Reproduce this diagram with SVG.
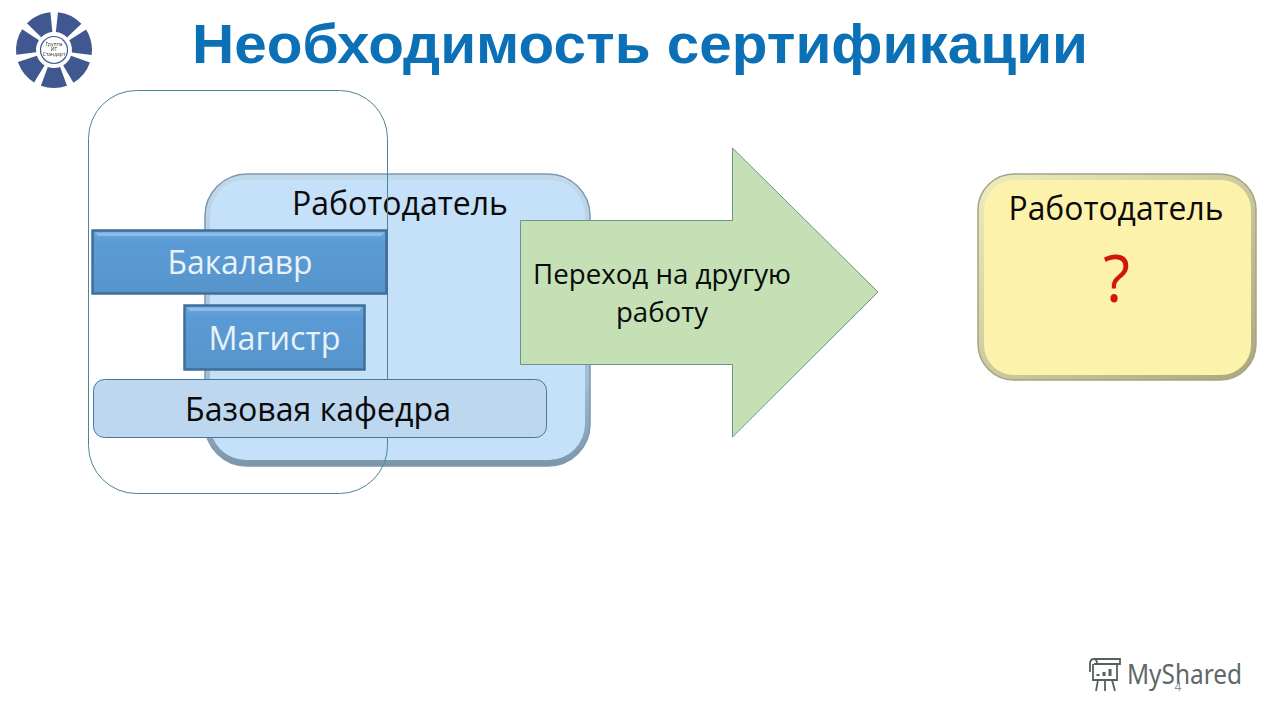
<svg xmlns="http://www.w3.org/2000/svg" width="1280" height="720" viewBox="0 0 1280 720">
<defs>
<linearGradient id="blueEdge" x1="0" y1="0" x2="0" y2="1"><stop offset="0" stop-color="#c2d9ea"/><stop offset="0.7" stop-color="#a3bdd2"/><stop offset="1" stop-color="#7d95a9"/></linearGradient>
<linearGradient id="yellowEdge" x1="0" y1="0" x2="1" y2="1"><stop offset="0" stop-color="#efecc0"/><stop offset="1" stop-color="#aba77c"/></linearGradient>
<linearGradient id="barFill" x1="0" y1="0" x2="0" y2="1"><stop offset="0" stop-color="#6aa5dc"/><stop offset="0.2" stop-color="#5b9bd5"/><stop offset="1" stop-color="#5794cc"/></linearGradient>
<filter id="soft" x="-5%" y="-5%" width="110%" height="110%"><feGaussianBlur stdDeviation="0.5"/></filter>
</defs>
<style>
text{font-family:"Open Sans","Noto Sans","Liberation Sans",sans-serif}
.lbl{font-size:33px;fill:#0a0a0a;text-anchor:middle}
.wht{font-size:33px;fill:#e8f2fa;text-anchor:middle}
.arr{font-size:27px;fill:#0a0a0a;text-anchor:middle}
.bar{stroke:#3f6f98;stroke-width:2.500;fill:url(#barFill)}
</style>
<rect width="1280" height="720" fill="#ffffff"/>
<g id="logo" filter="url(#soft)">
<circle cx="54" cy="50" r="28" fill="none" stroke="#40588f" stroke-width="20" stroke-dasharray="19.600 5.530" transform="rotate(70 54 50)"/>
<circle cx="54" cy="50" r="13.500" fill="#ffffff" stroke="#40588f" stroke-width="1.200"/>
<text x="54" y="46" font-size="5" fill="#333" text-anchor="middle">Группа</text>
<text x="54" y="51" font-size="5" fill="#333" text-anchor="middle">ИТ</text>
<text x="54" y="56" font-size="5" fill="#333" text-anchor="middle">Стандарт</text>
</g>
<text id="title" x="640" y="63" text-anchor="middle" style="font-family:'Liberation Sans',Arial,sans-serif;font-weight:700;font-size:56px" fill="#0b70b5" textLength="896" lengthAdjust="spacingAndGlyphs">Необходимость сертификации</text>
<g id="employer-left">
<rect x="205" y="174" width="385" height="292" rx="42" fill="url(#blueEdge)" stroke="#7c98b0" stroke-width="1.500"/>
<rect x="210" y="179.500" width="375" height="280.500" rx="36" fill="#c5e0f9"/>
<text class="lbl" x="400" y="215" textLength="216" lengthAdjust="spacingAndGlyphs">Работодатель</text>
</g>
<g id="outline-frame">
<rect x="88.500" y="90.500" width="299" height="403" rx="48" fill="none" stroke="#4e8597" stroke-width="1"/>
</g>
<g id="bachelor">
<rect class="bar" x="92.500" y="230.500" width="294" height="63"/>
<path d="M95 232.500H384.500L381 236H98Z" fill="#8bbce8"/>
<text class="wht" x="240" y="274" textLength="145" lengthAdjust="spacingAndGlyphs">Бакалавр</text>
</g>
<g id="master">
<rect class="bar" x="184.500" y="305.500" width="180" height="64"/>
<path d="M187 307.500H362.500L359 311H190Z" fill="#8bbce8"/>
<text class="wht" x="274.500" y="350" textLength="132" lengthAdjust="spacingAndGlyphs">Магистр</text>
</g>
<g id="base-department">
<rect x="93.500" y="379.500" width="453" height="58" rx="11" fill="#bdd7ee" stroke="#44789f" stroke-width="1"/>
<text class="lbl" x="318" y="421" textLength="266" lengthAdjust="spacingAndGlyphs">Базовая кафедра</text>
</g>
<g id="transition-arrow">
<polygon points="520.500,220.500 732.500,220.500 732.500,148 878,292 732.500,437 732.500,364.500 520.500,364.500" fill="#c5e0b4" stroke="#6f9486" stroke-width="1"/>
<text class="arr" x="662" y="284" textLength="258" lengthAdjust="spacingAndGlyphs">Переход на другую</text>
<text class="arr" x="662" y="322" textLength="92" lengthAdjust="spacingAndGlyphs">работу</text>
</g>
<g id="employer-right">
<rect x="978" y="174" width="278" height="206" rx="36" fill="url(#yellowEdge)" stroke="#a5a483" stroke-width="1.500"/>
<rect x="984" y="180" width="267" height="195" rx="30" fill="#fdf2ab"/>
<text class="lbl" x="1116" y="220" textLength="215" lengthAdjust="spacingAndGlyphs">Работодатель</text>
<text x="1116.500" y="302" text-anchor="middle" font-size="66" font-weight="500" fill="#d2160c" textLength="27" lengthAdjust="spacingAndGlyphs">?</text>
</g>
<g id="watermark" fill="none" stroke="#55605f" stroke-width="1.800">
<path d="M1094 659H1120V664H1094M1093 664V680H1117V664M1090 672V664C1090 660 1092 659 1094 659C1096 659 1097 661 1097 664M1098 680L1096 691M1105 680V691M1112 680L1115 691"/>
<path d="M1098 676V674M1104 676V672M1110 676V669" stroke-width="3"/>
<text x="1127" y="684" font-size="27" fill="#5d6868" stroke="none" textLength="115" lengthAdjust="spacingAndGlyphs" style="font-family:'Noto Sans',sans-serif">MyShared</text>
<text x="1178" y="691" font-size="12" fill="#8a8a8a" stroke="none" text-anchor="middle">4</text>
</g>
</svg>
